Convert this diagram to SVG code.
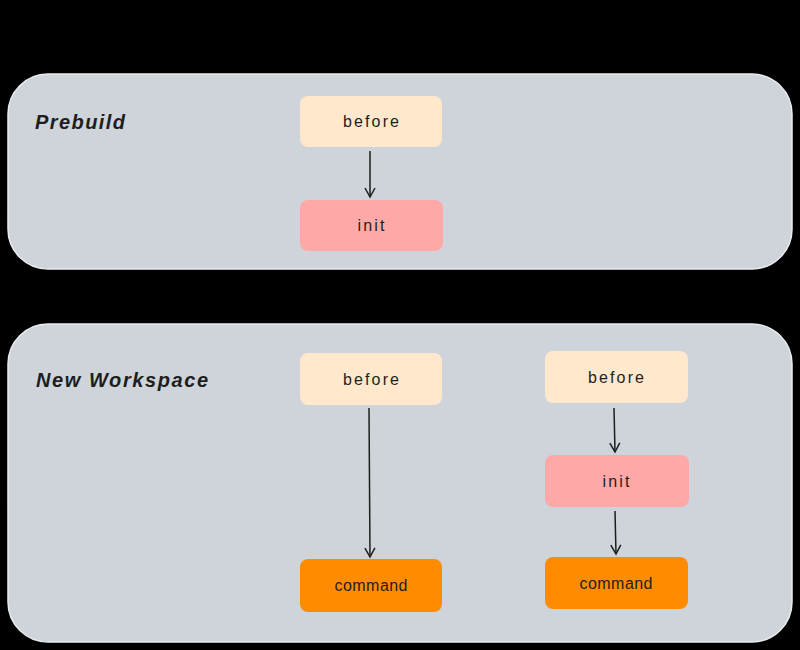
<svg xmlns="http://www.w3.org/2000/svg" width="800" height="650" viewBox="0 0 800 650">
  <style>
    .panel { fill: #ced4da; stroke: #e9ecef; stroke-width: 1.5; }
    .title { font-family: "Liberation Sans", "DejaVu Sans", sans-serif; font-size: 20px; font-style: italic; font-weight: bold; fill: #1e1e1e; }
    .lbl { font-family: "Liberation Sans", "DejaVu Sans", sans-serif; font-size: 16px; fill: #1e1e1e; text-anchor: middle; dominant-baseline: central; }
    .before { fill: #ffe8cc; }
    .init { fill: #ffa8a8; }
    .command { fill: #ff8c00; }
    .conn { stroke: #1e1e1e; stroke-width: 1.5; fill: none; }
  </style>
  <defs>
    <marker id="arr" viewBox="0 0 12 12" refX="10" refY="6" markerWidth="12" markerHeight="12" markerUnits="userSpaceOnUse" orient="auto">
      <path d="M1,1 L10,6 L1,11" fill="none" stroke="#1e1e1e" stroke-width="1.5"/>
    </marker>
  </defs>
  <rect x="0" y="0" width="800" height="650" fill="#000"/>

  <g id="panel-prebuild">
    <rect class="panel" x="8" y="74" width="784" height="195" rx="40"/>
    <text class="title" x="35" y="129" textLength="90" lengthAdjust="spacing">Prebuild</text>
  </g>
  <g id="panel-newworkspace">
    <rect class="panel" x="8" y="324" width="784" height="318" rx="40"/>
    <text class="title" x="36" y="387" textLength="172" lengthAdjust="spacing">New Workspace</text>
  </g>

  <g id="pb-before">
    <rect class="before" x="300" y="96" width="142" height="51" rx="8"/>
    <text class="lbl" x="371" y="121.5" textLength="56" lengthAdjust="spacing">before</text>
  </g>
  <g id="pb-init">
    <rect class="init" x="300" y="200" width="143" height="51" rx="8"/>
    <text class="lbl" x="371" y="225.5" textLength="27" lengthAdjust="spacing">init</text>
  </g>

  <g id="nw-before">
    <rect class="before" x="300" y="353" width="142" height="52" rx="8"/>
    <text class="lbl" x="371" y="379" textLength="56" lengthAdjust="spacing">before</text>
  </g>
  <g id="nw-command">
    <rect class="command" x="300" y="559" width="142" height="53" rx="8"/>
    <text class="lbl" x="371" y="585" textLength="73" lengthAdjust="spacing">command</text>
  </g>

  <g id="nw2-before">
    <rect class="before" x="545" y="351" width="143" height="52" rx="8"/>
    <text class="lbl" x="616" y="377" textLength="56" lengthAdjust="spacing">before</text>
  </g>
  <g id="nw2-init">
    <rect class="init" x="545" y="455" width="144" height="52" rx="8"/>
    <text class="lbl" x="616" y="481" textLength="27" lengthAdjust="spacing">init</text>
  </g>
  <g id="nw2-command">
    <rect class="command" x="545" y="557" width="143" height="52" rx="8"/>
    <text class="lbl" x="616" y="583" textLength="73" lengthAdjust="spacing">command</text>
  </g>

  <g id="connectors">
    <line class="conn" x1="370" y1="151" x2="370" y2="197" marker-end="url(#arr)"/>
    <line class="conn" x1="369" y1="408" x2="370" y2="557" marker-end="url(#arr)"/>
    <line class="conn" x1="614" y1="408" x2="615" y2="452" marker-end="url(#arr)"/>
    <line class="conn" x1="615" y1="511" x2="616" y2="554" marker-end="url(#arr)"/>
  </g>
</svg>
